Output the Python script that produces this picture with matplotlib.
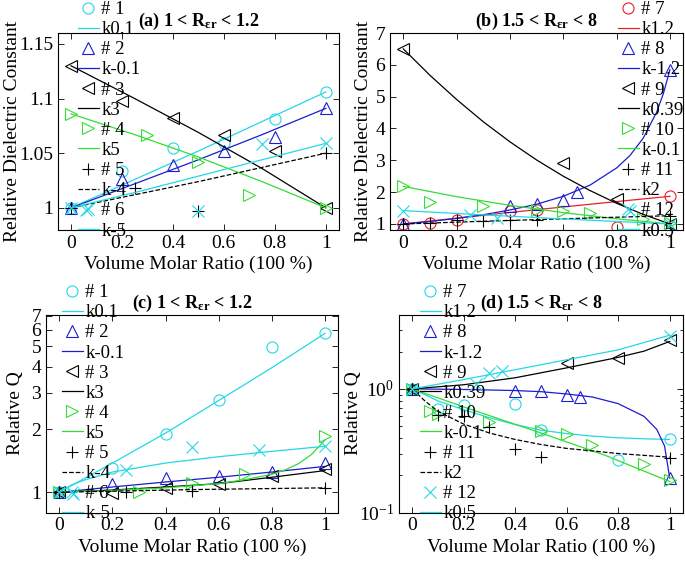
import numpy as np
import matplotlib
matplotlib.use('Agg')
import matplotlib.pyplot as plt
from matplotlib.ticker import NullLocator, NullFormatter, FixedLocator

plt.rcParams['font.family'] = 'Liberation Serif'
plt.rcParams['mathtext.fontset'] = 'custom'
plt.rcParams['mathtext.rm'] = 'Liberation Serif'
plt.rcParams['mathtext.bf'] = 'Liberation Serif:bold'
plt.rcParams['mathtext.it'] = 'Liberation Serif:italic'
plt.rcParams['mathtext.fallback'] = 'stix'
plt.rcParams['mathtext.default'] = 'regular'

CY = '#22d8e6'
BL = '#1c1cd0'
GR = '#33dd33'
RD = '#e8202a'
BK = 'black'

# ---- (a) relative dielectric constant, 1 < R < 1.2 ----
a_x1 = [0, 0.2, 0.4, 0.6, 0.8, 1]
a_y1 = [1.0, 1.034, 1.055, 1.059, 1.081, 1.106]
a_x2 = [0, 0.2, 0.4, 0.6, 0.8, 1]
a_y2 = [1.0, 1.026, 1.039, 1.052, 1.065, 1.091]
a_x3 = [0, 0.2, 0.4, 0.6, 0.8, 1]
a_y3 = [1.130, 1.098, 1.082, 1.067, 1.052, 1.0]
a_x4 = [0, 0.3, 0.5, 0.7, 1]
a_y4 = [1.086, 1.067, 1.042, 1.012, 1.0]
a_x5 = [0, 0.25, 0.5, 1]
a_y5 = [1.0, 1.018, 0.997, 1.05]
a_x6 = [0, 0.06, 0.5, 0.75, 1]
a_y6 = [1.0, 0.998, 0.997, 1.058, 1.059]
a_fx = [0, 0.25, 0.5, 0.75, 1]
a_f1 = [1.0, 1.026, 1.052, 1.079, 1.106]
a_f2 = [1.0, 1.022, 1.044, 1.067, 1.091]
a_f3 = [1.130, 1.100, 1.069, 1.036, 1.0]
a_f4 = [1.086, 1.067, 1.0465, 1.024, 1.0]
a_f5 = [1.0, 1.012, 1.024, 1.037, 1.05]
a_f6 = [1.0, 1.014, 1.029, 1.044, 1.059]

# ---- (b) relative dielectric constant, 1.5 < R < 8 ----
b_x7 = [0, 0.1, 0.2, 0.4, 0.5, 0.8, 1]
b_y7 = [1.0, 1.03, 1.14, 1.40, 1.43, 0.9, 1.87]
b_x8 = [0, 0.4, 0.5, 0.6, 0.65, 1]
b_y8 = [1.0, 1.55, 1.64, 1.74, 1.99, 5.85]
b_x9 = [0, 0.6, 0.8, 1]
b_y9 = [6.51, 2.92, 1.80, 1.0]
b_x10 = [0, 0.1, 0.3, 0.5, 0.6, 0.7, 0.9, 1]
b_y10 = [2.18, 1.69, 1.58, 1.45, 1.40, 1.35, 1.15, 1.03]
b_x11 = [0, 0.1, 0.2, 0.3, 0.4, 0.5, 1]
b_y11 = [1.0, 1.03, 1.12, 1.1, 1.12, 1.12, 1.26]
b_x12 = [0, 0.25, 0.35, 0.85, 1]
b_y12 = [1.42, 1.29, 1.2, 1.42, 1.0]
b_fx7 = [0, 0.25, 0.5, 0.75, 1]
b_f7 = [1.0, 1.228, 1.449, 1.662, 1.87]
b_fx8 = [0, 0.1, 0.2, 0.3, 0.4, 0.5, 0.6, 0.7, 0.8, 0.85, 0.9, 0.95, 0.975, 1]
b_f8 = [1.0, 1.08, 1.175, 1.29, 1.44, 1.62, 1.87, 2.22, 2.76, 3.15, 3.70, 4.51, 5.09, 5.85]
b_fx9 = [0, 0.1, 0.2, 0.3, 0.4, 0.5, 0.6, 0.7, 0.8, 0.9, 1]
b_f9 = [6.5, 5.67, 4.91, 4.21, 3.58, 3.01, 2.50, 2.05, 1.65, 1.30, 1.0]
b_fx10 = [0, 0.2, 0.4, 0.6, 0.8, 1]
b_f10 = [2.18, 1.857, 1.585, 1.356, 1.163, 1.0]
b_fx11 = [0, 0.25, 0.5, 0.75, 1]
b_f11 = [1.0, 1.071, 1.137, 1.200, 1.26]
b_fx12 = [0, 0.25, 0.5, 0.75, 1]
b_f12 = [1.42, 1.308, 1.201, 1.098, 1.0]

# ---- (c) relative Q, 1 < R < 1.2 ----
c_x1 = [0, 0.2, 0.4, 0.6, 0.8, 1]
c_y1 = [1.0, 1.30, 1.91, 2.78, 4.94, 5.76]
c_x2 = [0, 0.2, 0.4, 0.6, 0.8, 1]
c_y2 = [1.0, 1.09, 1.166, 1.19, 1.245, 1.375]
c_x3 = [0, 0.2, 0.4, 0.6, 0.8, 1]
c_y3 = [1.0, 0.99, 1.05, 1.096, 1.19, 1.29]
c_x4 = [0, 0.3, 0.5, 0.7, 1]
c_y4 = [1.0, 1.0, 1.11, 1.22, 1.86]
c_x5 = [0, 0.25, 0.5, 1]
c_y5 = [1.0, 1.0, 1.015, 1.05]
c_x6 = [0, 0.05, 0.25, 0.5, 0.75, 1]
c_y6 = [1.0, 0.98, 1.28, 1.65, 1.60, 1.66]
c_fx = [0, 0.2, 0.4, 0.6, 0.8, 1]
c_f1 = [1.0, 1.38, 1.92, 2.75, 3.95, 5.76]
c_f2 = [1.0, 1.06, 1.12, 1.18, 1.25, 1.33]
c_f3 = [1.0, 1.025, 1.06, 1.10, 1.18, 1.27]
c_fx4 = [0, 0.2, 0.4, 0.6, 0.7, 0.8, 0.85, 0.9, 0.95, 1]
c_f4 = [1.0, 1.02, 1.05, 1.10, 1.15, 1.22, 1.28, 1.37, 1.52, 1.78]
c_fx5 = [0, 0.5, 1]
c_f5 = [1.0, 1.03, 1.05]
c_fx6 = [0, 0.05, 0.1, 0.2, 0.4, 0.6, 0.8, 1]
c_f6 = [1.0, 1.09, 1.15, 1.25, 1.38, 1.48, 1.57, 1.66]

# ---- (d) relative Q, 1.5 < R < 8 ----
d_x7 = [0, 0.1, 0.2, 0.4, 0.5, 0.8, 1]
d_y7 = [1.0, 0.69, 0.74, 0.757, 0.461, 0.266, 0.39]
d_x8 = [0, 0.4, 0.5, 0.6, 0.65, 1]
d_y8 = [1.0, 0.97, 0.957, 0.889, 0.857, 0.19]
d_x9 = [0, 0.6, 0.8, 1]
d_y9 = [1.0, 1.62, 1.78, 2.50]
d_x10 = [0, 0.1, 0.3, 0.5, 0.6, 0.7, 0.9, 1]
d_y10 = [1.0, 0.63, 0.54, 0.456, 0.428, 0.349, 0.248, 0.182]
d_x11 = [0, 0.1, 0.2, 0.3, 0.4, 0.5, 1]
d_y11 = [1.0, 0.61, 0.60, 0.49, 0.324, 0.283, 0.277]
d_x12 = [0, 0.25, 0.3, 0.35, 1]
d_y12 = [1.0, 1.10, 1.35, 1.39, 2.69]
d_fx7 = [0, 0.05, 0.1, 0.2, 0.3, 0.4, 0.5, 0.6, 0.7, 0.8, 0.9, 1]
d_f7 = [1.0, 0.9, 0.8, 0.68, 0.585, 0.515, 0.464, 0.435, 0.415, 0.402, 0.395, 0.39]
d_fx8 = [0, 0.2, 0.4, 0.5, 0.6, 0.7, 0.8, 0.9, 0.95, 0.98, 1]
d_f8 = [1.0, 0.99, 0.97, 0.95, 0.91, 0.86, 0.76, 0.60, 0.47, 0.345, 0.19]
d_fx9 = [0, 0.2, 0.4, 0.6, 0.8, 0.9, 1]
d_f9 = [1.0, 1.08, 1.23, 1.48, 1.80, 2.02, 2.42]
d_fx10 = [0, 0.25, 0.5, 0.75, 1]
d_f10 = [1.0, 0.66, 0.44, 0.29, 0.178]
d_fx11 = [0, 0.05, 0.1, 0.2, 0.3, 0.4, 0.5, 0.6, 0.7, 0.8, 0.9, 1]
d_f11 = [1.0, 0.8, 0.66, 0.52, 0.44, 0.39, 0.355, 0.33, 0.315, 0.30, 0.29, 0.28]
d_fx12 = [0, 0.2, 0.4, 0.6, 0.8, 1]
d_f12 = [1.0, 1.19, 1.43, 1.72, 2.07, 2.72]

xticks = [0, 0.2, 0.4, 0.6, 0.8, 1]
xticklabels = ['0', '0.2', '0.4', '0.6', '0.8', '1']

W, H = 685.0, 563.0
fig = plt.figure(figsize=(W / 100, H / 100), dpi=100)


def add_ax(left, top, right, bottom):
    return fig.add_axes([left / W, 1 - bottom / H, (right - left) / W, (bottom - top) / H])


def style(ax, title, ylabel, ylab_right):
    ax.set_xlim(-0.05, 1.05)
    ax.set_xticks(xticks)
    ax.set_xticklabels(xticklabels)
    ax.tick_params(which='both', direction='in', top=True, right=True,
                   labelsize=14, width=0.6)
    ax.tick_params(which='major', length=4)
    ax.tick_params(which='minor', length=2.5)
    for s in ax.spines.values():
        s.set_linewidth(0.8)
    ax.set_xlabel('Volume Molar Ratio (100 %)', fontsize=14, labelpad=3)
    ax.set_ylabel(ylabel, fontsize=14)
    # place the y label so its right edge sits at a given pixel column
    bb = ax.get_position()
    ax.yaxis.set_label_coords((ylab_right / W - bb.x0) / bb.width, 0.5)
    ax.set_title(title, fontsize=13, fontweight='bold', pad=5)


def draw(ax, series, leg_x, leg_y):
    # series: (x, y, marker, color, label, fx, fy, linestyle, flabel)
    handles = []
    for x, y, m, c, lab, fx, fy, ls, flab in series:
        h1, = ax.plot(x, y, linestyle='none', marker=m, ms=8, mfc='none',
                      mec=c, mew=0.8, label=lab)
        h2, = ax.plot(fx, fy, ls, color=c, lw=0.9, label=flab)
        handles += [h1, h2]
    fig.legend(handles, [h.get_label() for h in handles], loc='upper left',
               bbox_to_anchor=(leg_x / W, 1 - leg_y / H), frameon=False,
               fontsize=13.5, handlelength=1.1, handletextpad=0.15,
               labelspacing=0.16, borderpad=0, borderaxespad=0)


# (a)
ax = add_ax(58.3, 33, 338.5, 229.7)
draw(ax, [
    (a_x1, a_y1, 'o', CY, '# 1', a_fx, a_f1, '-', 'k0.1'),
    (a_x2, a_y2, '^', BL, '# 2', a_fx, a_f2, '-', 'k-0.1'),
    (a_x3, a_y3, '<', BK, '# 3', a_fx, a_f3, '-', 'k3'),
    (a_x4, a_y4, '>', GR, '# 4', a_fx, a_f4, '-', 'k5'),
    (a_x5, a_y5, '+', BK, '# 5', a_fx, a_f5, '--', 'k-4'),
    (a_x6, a_y6, 'x', CY, '# 6', a_fx, a_f6, '-', 'k-5'),
], 78, 1)
ax.set_ylim(0.98, 1.16)
ax.set_yticks([1, 1.05, 1.1, 1.15])
ax.set_yticklabels(['1', '1.05', '1.1', '1.15'])
style(ax, r'(a) 1 < R$_{\mathbf{\epsilon r}}$ < 1.2', 'Relative Dielectric Constant', 21)

# (b)
ax = add_ax(390, 33, 683.3, 229.7)
draw(ax, [
    (b_x7, b_y7, 'o', RD, '# 7', b_fx7, b_f7, '-', 'k1.2'),
    (b_x8, b_y8, '^', BL, '# 8', b_fx8, b_f8, '-', 'k-1.2'),
    (b_x9, b_y9, '<', BK, '# 9', b_fx9, b_f9, '-', 'k0.39'),
    (b_x10, b_y10, '>', GR, '# 10', b_fx10, b_f10, '-', 'k-0.1'),
    (b_x11, b_y11, '+', BK, '# 11', b_fx11, b_f11, '--', 'k2'),
    (b_x12, b_y12, 'x', CY, '# 12', b_fx12, b_f12, '-', 'k0.5'),
], 618, 1)
ax.set_ylim(0.82, 7)
ax.set_yticks([1, 2, 3, 4, 5, 6, 7])
ax.set_yticklabels(['1', '2', '3', '4', '5', '6', '7'])
style(ax, r'(b) 1.5 < R$_{\mathbf{\epsilon r}}$ < 8', 'Relative Dielectric Constant', 372)

# (c)
ax = add_ax(46, 314.5, 338.3, 512.5)
draw(ax, [
    (c_x1, c_y1, 'o', CY, '# 1', c_fx, c_f1, '-', 'k0.1'),
    (c_x2, c_y2, '^', BL, '# 2', c_fx, c_f2, '-', 'k-0.1'),
    (c_x3, c_y3, '<', BK, '# 3', c_fx, c_f3, '-', 'k3'),
    (c_x4, c_y4, '>', GR, '# 4', c_fx4, c_f4, '-', 'k5'),
    (c_x5, c_y5, '+', BK, '# 5', c_fx5, c_f5, '--', 'k-4'),
    (c_x6, c_y6, 'x', CY, '# 6', c_fx6, c_f6, '-', 'k-5'),
], 62, 284)
ax.set_yscale('log')
ax.set_ylim(0.8, 7.1)
ax.yaxis.set_major_locator(FixedLocator([1, 2, 3, 4, 5, 6, 7]))
ax.yaxis.set_minor_locator(NullLocator())
ax.set_yticklabels(['1', '2', '3', '4', '5', '6', '7'])
style(ax, r'(c) 1 < R$_{\mathbf{\epsilon r}}$ < 1.2', 'Relative Q', 24)

# (d)
ax = add_ax(399.1, 314.5, 682.6, 512.5)
draw(ax, [
    (d_x7, d_y7, 'o', CY, '# 7', d_fx7, d_f7, '-', 'k1.2'),
    (d_x8, d_y8, '^', BL, '# 8', d_fx8, d_f8, '-', 'k-1.2'),
    (d_x9, d_y9, '<', BK, '# 9', d_fx9, d_f9, '-', 'k0.39'),
    (d_x10, d_y10, '>', GR, '# 10', d_fx10, d_f10, '-', 'k-0.1'),
    (d_x11, d_y11, '+', BK, '# 11', d_fx11, d_f11, '--', 'k2'),
    (d_x12, d_y12, 'x', CY, '# 12', d_fx12, d_f12, '-', 'k0.5'),
], 420, 284)
ax.set_yscale('log')
ax.set_ylim(0.1, 4)
ax.yaxis.set_minor_formatter(NullFormatter())
style(ax, r'(d) 1.5 < R$_{\mathbf{\epsilon r}}$ < 8', 'Relative Q', 362)

fig.savefig('out.png', dpi=100)
